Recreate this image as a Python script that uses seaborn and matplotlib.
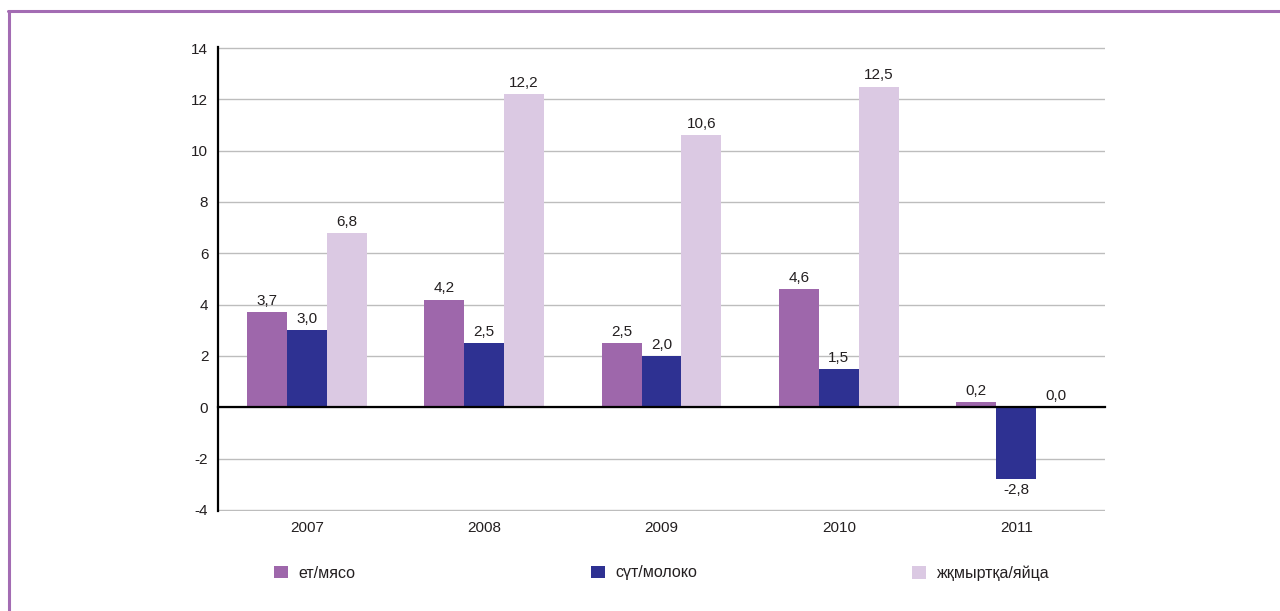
import matplotlib.pyplot as plt
import matplotlib.transforms as mtransforms
from matplotlib.lines import Line2D
from matplotlib.patches import Patch
import seaborn as sns
import pandas as pd

years = ['2007', '2008', '2009', '2010', '2011']
meat = [3.7, 4.2, 2.5, 4.6, 0.2]
milk = [3.0, 2.5, 2.0, 1.5, -2.8]
eggs = [6.8, 12.2, 10.6, 12.5, 0.0]
series_names = ['ет/мясо', 'сүт/молоко', 'жқмыртқа/яйца']
colors = ['#9E67AB', '#2E3192', '#DBC9E3']
y_ticks = list(range(-4, 15, 2))

sns.set_style('white')
plt.rcParams['font.family'] = ['Liberation Sans', 'DejaVu Sans']
plt.rcParams['axes.unicode_minus'] = False
text_color = '#231F20'

df = pd.DataFrame({
    'year': years * 3,
    'value': meat + milk + eggs,
    'series': [s for s in series_names for _ in years],
})

fig = plt.figure(figsize=(12.8, 6.11), dpi=100)
ax = fig.add_axes([0.1703, 0.1637, 0.693, 0.7594])

sns.barplot(data=df, x='year', y='value', hue='series', hue_order=series_names,
            palette=colors, saturation=1, width=0.675, errorbar=None,
            legend=False, linewidth=0, ax=ax)

# value labels with comma decimal
for cont in ax.containers:
    labels = [f"{b.get_height():.1f}".replace('.', ',') for b in cont]
    ax.bar_label(cont, labels=labels, padding=3, fontsize=11, color=text_color)

ax.set_xlim(-0.5, 4.5)
ax.set_ylim(-4.04, 14.04)
ax.set_yticks(y_ticks)
ax.set_xlabel('')
ax.set_ylabel('')
ax.grid(axis='y', color='#BDBDBD', lw=1)
ax.set_axisbelow(True)

ax.spines['top'].set_visible(False)
ax.spines['right'].set_visible(False)
ax.spines['bottom'].set_position(('data', 0))
ax.spines['bottom'].set_color('black')
ax.spines['bottom'].set_linewidth(1.6)
ax.spines['left'].set_color('black')
ax.spines['left'].set_linewidth(1.6)
ax.spines['bottom'].set_zorder(5)

ax.tick_params(axis='y', direction='out', length=4, width=1.4, color='black',
               labelsize=11, labelcolor=text_color, pad=3)
ax.set_xticks(range(len(years)))
ax.set_xticklabels([])
ax.tick_params(axis='x', which='major', length=0)
ax.set_xticks([i + 0.5 for i in range(len(years))], minor=True)
ax.tick_params(axis='x', which='minor', direction='out', length=4, width=1.6, color='black')

# year labels under the plot area
trans = mtransforms.blended_transform_factory(ax.transData, ax.transAxes)
for i, y in enumerate(years):
    ax.text(i, -0.022, y, transform=trans, ha='center', va='top',
            fontsize=11, color=text_color)

# legend entries spread across the bottom
legend_x = [274, 591, 912]
for name, col, lx in zip(series_names, colors, legend_x):
    fig.legend(handles=[Patch(facecolor=col, edgecolor='none')], labels=[name],
               loc='center left', bbox_to_anchor=(lx / 1280, 1 - 573 / 611),
               frameon=False, borderpad=0, borderaxespad=0,
               handlelength=0.85, handleheight=0.85, handletextpad=0.7,
               prop={'size': 11.5}, labelcolor=text_color)

# purple frame (top and left edges)
frame_col = '#A36CB3'
fig.add_artist(Line2D([8 / 1280, 1], [1 - 11 / 611] * 2, color=frame_col, lw=2.2,
                      transform=fig.transFigure))
fig.add_artist(Line2D([8.5 / 1280] * 2, [0, 1 - 11 / 611], color=frame_col, lw=2.2,
                      transform=fig.transFigure))

fig.savefig('out.png', dpi=100)
